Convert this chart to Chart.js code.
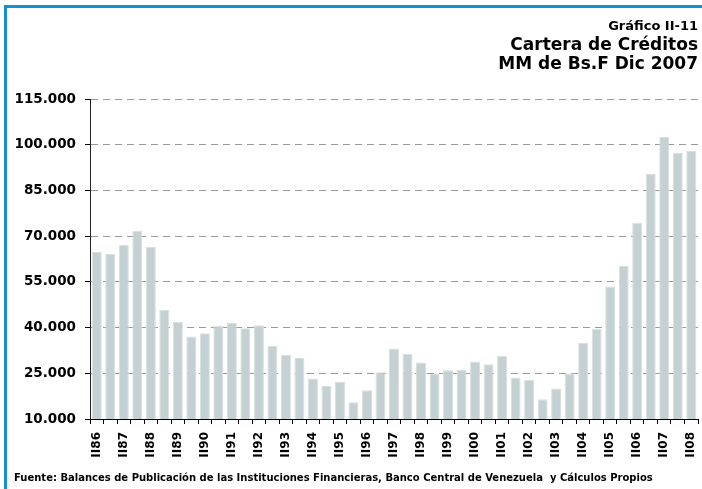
<!DOCTYPE html>
<html>
<head>
<meta charset="utf-8">
<script src="https://cdn.jsdelivr.net/npm/chart.js@4.4.1/dist/chart.umd.min.js"></script>
<style>
    body { margin: 0; background: #fff; }
    #wrap { position: relative; width: 702px; height: 489px; }
    #frame { position: absolute; left: 4px; top: 5px; right: 0; bottom: 0; border-top: 3px solid #1591c9; border-left: 3px solid #1591c9; pointer-events: none; }
</style>
</head>
<body>
<div id="wrap">
    <canvas id="creditChart"></canvas>
    <div id="frame"></div>
</div>
<script>
const categories = ['II86', 'I87', 'II87', 'I88', 'II88', 'I89', 'II89', 'I90', 'II90', 'I91', 'II91',
    'I92', 'II92', 'I93', 'II93', 'I94', 'II94', 'I95', 'II95', 'I96', 'II96', 'I97', 'II97',
    'I98', 'II98', 'I99', 'II99', 'I00', 'II00', 'I01', 'II01', 'I02', 'II02', 'I03', 'II03',
    'I04', 'II04', 'I05', 'II05', 'I06', 'II06', 'I07', 'II07', 'I08', 'II08'];
const cartera = [64800, 64250, 67100, 71800, 66400, 45800, 41800, 37100, 38100, 40600, 41600,
    39750, 40800, 34000, 31000, 30100, 23300, 20900, 22100, 15500, 19400, 25300, 33100,
    31400, 28500, 24800, 26000, 26100, 28900, 28000, 30700, 23600, 22900, 16500, 20000,
    24900, 34900, 39600, 53500, 60300, 74400, 90500, 102500, 97300, 97900];
const yMin = 10000;
const yMax = 115000;
const yStep = 15000;
const titleText = 'Gráfico II-11';
const subtitleLines = ['Cartera de Créditos', 'MM de Bs.F Dic 2007'];
const sourceText = 'Fuente: Balances de Publicación de las Instituciones Financieras, Banco Central de Venezuela  y Cálculos Propios';

const FONT = "'DejaVu Sans', sans-serif";

/*footer note under the axis*/
const sourceNote = {
    id: 'sourceNote',
    afterDraw(chart) {
        const ctx = chart.ctx;
        ctx.save();
        ctx.font = 'bold 10px ' + FONT;
        ctx.fillStyle = '#000';
        ctx.textBaseline = 'alphabetic';
        ctx.fillText(sourceText, 14, 481);
        ctx.restore();
    }
};

const fmt = (v) => v.toString().replace(/\B(?=(\d{3})+(?!\d))/g, '.');

new Chart(document.getElementById('creditChart'), {
    type: 'bar',
    data: {
        labels: categories,
        datasets: [{
            data: cartera,
            backgroundColor: '#c4d0d1',
            borderColor: '#d8dfdf',
            borderWidth: 1,
            barPercentage: 0.74,
            categoryPercentage: 1
        }]
    },
    options: {
        responsive: true,
        maintainAspectRatio: false,
        animation: false,
        layout: { padding: { left: 0, right: 4, top: 0, bottom: 20 } },
        plugins: {
            legend: { display: false },
            tooltip: { enabled: false },
            title: {
                display: true,
                text: titleText,
                align: 'end',
                color: '#000',
                font: { family: FONT, size: 13, weight: 'bold', lineHeight: 1.2 },
                padding: { top: 19, bottom: 0 }
            },
            subtitle: {
                display: true,
                text: subtitleLines,
                align: 'end',
                color: '#000',
                font: { family: FONT, size: 17, weight: 'bold', lineHeight: 1.1 },
                padding: { top: 2, bottom: 25 }
            }
        },
        scales: {
            x: {
                grid: {
                    offset: true,
                    drawOnChartArea: false,
                    drawTicks: true,
                    tickLength: 5,
                    tickColor: '#000'
                },
                border: { display: true, color: '#000', width: 1 },
                ticks: {
                    autoSkip: false,
                    maxRotation: 90,
                    minRotation: 90,
                    padding: 8,
                    color: '#000',
                    font: { family: FONT, size: 12, weight: 'bold' },
                    callback: function (value, index) {
                        return index % 2 === 0 ? this.getLabelForValue(value) : '';
                    }
                },
                afterFit: function (scale) {
                    scale.height = 50;
                    scale.paddingLeft = 0;
                    scale.paddingRight = 0;
                }
            },
            y: {
                min: yMin,
                max: yMax,
                grid: {
                    color: '#999',
                    tickBorderDash: [],
                    tickColor: '#000',
                    tickLength: 5
                },
                border: { display: true, color: '#222', width: 1, dash: [7, 5] },
                ticks: {
                    stepSize: yStep,
                    padding: 9,
                    color: '#000',
                    font: { family: FONT, size: 13.5, weight: 'bold' },
                    callback: (v) => fmt(v)
                },
                afterFit: function (scale) { scale.width = 90; }
            }
        }
    },
    plugins: [sourceNote]
});
</script>
</body>
</html>
